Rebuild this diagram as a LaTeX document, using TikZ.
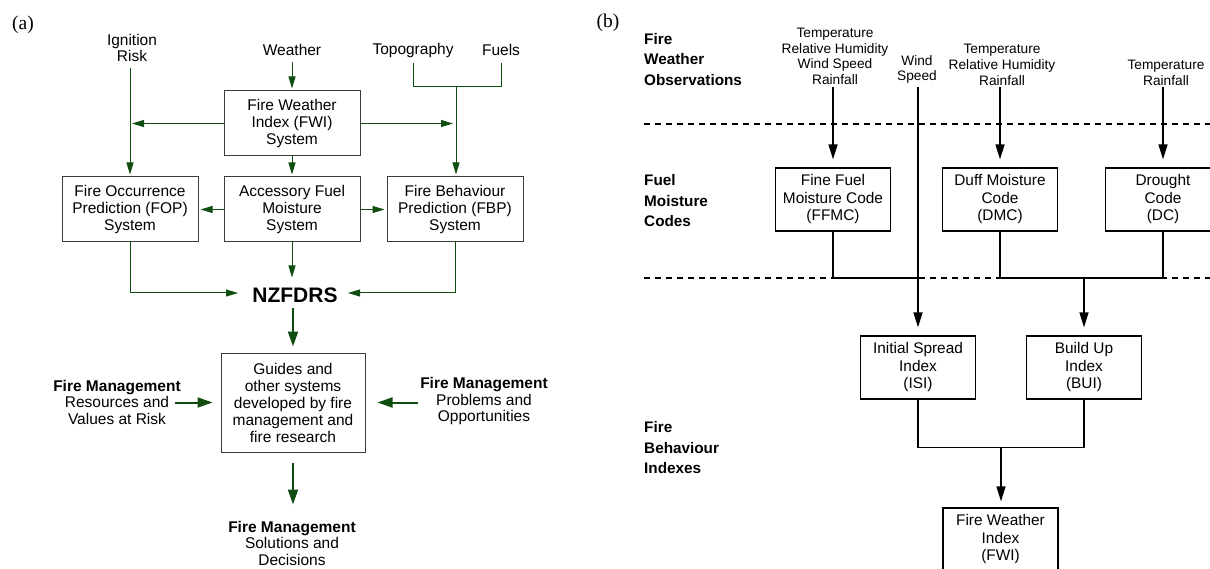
\documentclass[tikz,border=0pt]{standalone}
\usepackage{fontspec}
\setmainfont{Liberation Sans}
\newfontfamily\serifpanel{Liberation Serif}
\usetikzlibrary{arrows.meta}
\definecolor{fgreen}{RGB}{16,77,16}
\definecolor{boxgray}{RGB}{60,60,60}
\tikzset{
  abox/.style={draw=boxgray, line width=1pt, minimum width=136pt, minimum height=65pt, inner sep=0pt, align=center, font=\fontsize{15.5}{17}\selectfont},
  atxt/.style={inner sep=0pt, align=center, font=\fontsize{15.5}{16.5}\selectfont},
  gline/.style={draw=fgreen, line width=1pt},
  garr/.style={gline, -{Triangle[length=12pt,width=7pt]}},
  gthick/.style={draw=fgreen, line width=2pt, -{Triangle[length=15pt,width=10pt]}},
  bbox/.style={draw=black, line width=1.2pt, minimum width=115pt, minimum height=63pt, inner sep=0pt, align=center, font=\fontsize{15.4}{17.5}\selectfont},
  otxt/.style={inner sep=0pt, align=center, font=\fontsize{13.7}{15.7}\selectfont},
  blab/.style={inner sep=0pt, align=left, anchor=west, font=\fontsize{15.3}{20.5}\selectfont\bfseries},
  bline/.style={draw=black, line width=1.3pt},
  barr/.style={bline, -{Triangle[length=15pt,width=9pt]}},
  dline/.style={draw=black, line width=1.2pt, dash pattern=on 6pt off 5pt},
  plabel/.style={inner sep=0pt, font=\serifpanel\fontsize{19.5}{22}\selectfont},
}
\begin{document}
\begin{tikzpicture}[x=1pt,y=-1pt]
\clip (0,0) rectangle (1210,569);
\fill[white] (0,0) rectangle (1210,569);

% ---------------- panel (a) ----------------
\node[plabel] (pa) at (23,25) {(a)};
\node[atxt] (ign) at (132,48) {Ignition\\Risk};
\node[atxt] (wea) at (292,50) {Weather};
\node[atxt] (topo) at (413,50) {Topography};
\node[atxt] (fue) at (501,50) {Fuels};

\node[abox] (fwi) at (292,123.5) {Fire Weather\\Index (FWI)\\System};
\node[abox] (fop) at (130,209.5) {Fire Occurrence\\Prediction (FOP)\\System};
\node[abox] (afm) at (292,209.5) {Accessory Fuel\\Moisture\\System};
\node[abox] (fbp) at (455,209.5) {Fire Behaviour\\Prediction (FBP)\\System};
\node[inner sep=0pt, font=\fontsize{21}{24}\selectfont\bfseries] (nz) at (295,295) {NZFDRS};

\coordinate (ir) at (130,68);
\coordinate (wx) at (292,62);
\coordinate (tp) at (413,63);
\coordinate (fu) at (501,63);
\coordinate (tf) at (456,87);
\coordinate (nzl) at (238,293);
\coordinate (nzr) at (348,293);

\draw[garr] (ir) -- ([yshift=2pt]fop.north);
\draw[garr] (wx) -- ([yshift=2pt]fwi.north);
\draw[gline] (tp) -- ++(0,24) -| (fu);
\draw[garr] (tf) -- ([yshift=2pt]tf |- fbp.north);
\draw[garr, shorten >=2pt] (fwi.west) -- (fwi.west -| ir);
\draw[garr, shorten >=3pt] (fwi.east) -- (fwi.east -| tf);
\draw[garr] (fwi.south) -- ([yshift=2pt]afm.north);
\draw[garr, shorten >=2pt] (afm.west) -- (fop.east);
\draw[garr, shorten >=2pt] (afm.east) -- (fbp.west);
\draw[garr] (afm.south) -- ++(0,35);
\draw[garr] (fop.south) |- (nzl);
\draw[garr] (fbp.south) |- (nzr);

\node[abox, minimum width=144pt, minimum height=99pt] (gd) at (293,402.5) {Guides and\\other systems\\developed by fire\\management and\\fire research};
\node[atxt] (lfm) at (117,402) {\textbf{Fire Management}\\Resources and\\Values at Risk};
\node[atxt] (rfm) at (484,401) {\textbf{Fire Management}\\Problems and\\Opportunities};
\node[atxt] (bfm) at (292,543) {\textbf{Fire Management}\\Solutions and\\Decisions};

\draw[gthick] ([yshift=-5.5pt]gd.north |- nz.south) -- ([yshift=6pt]gd.north);
\draw[gthick] ([xshift=-46pt]gd.west) -- ([xshift=-8pt]gd.west);
\draw[gthick] ([xshift=52pt]gd.east) -- ([xshift=12pt]gd.east);
\draw[gthick] ([yshift=-10pt]gd.south) -- ([yshift=-52pt]gd.south);

% ---------------- panel (b) ----------------
\node[plabel] (pb) at (608,23) {(b)};
\node[blab] (l1) at (644,59.5) {Fire\\Weather\\Observations};
\node[blab] (l2) at (644,201) {Fuel\\Moisture\\Codes};
\node[blab] (l3) at (644,448) {Fire\\Behaviour\\Indexes};

\coordinate (d1a) at (644,124);
\coordinate (d1b) at (1210,124);
\coordinate (d2a) at (644,278);
\coordinate (d2b) at (1210,278);
\draw[dline] (d1a) -- (d1b);
\draw[dline] (d2a) -- (d2b);

\node[otxt] (o1) at (835,56.5) {Temperature\\Relative Humidity\\Wind Speed\\Rainfall};
\node[otxt] (o2) at (917,69.5) {Wind\\Speed};
\node[otxt] (o3) at (1002,65) {Temperature\\Relative Humidity\\Rainfall};
\node[otxt] (o4) at (1166,73) {Temperature\\Rainfall};

\node[bbox] (ffmc) at (833,199.5) {Fine Fuel\\Moisture Code\\(FFMC)};
\node[bbox] (dmc) at (1000,199.5) {Duff Moisture\\Code\\(DMC)};
\node[bbox] (dc) at (1163,199.5) {Drought\\Code\\(DC)};
\node[bbox] (isi) at (918,367.5) {Initial Spread\\Index\\(ISI)};
\node[bbox] (bui) at (1084,367.5) {Build Up\\Index\\(BUI)};
\node[bbox] (fwib) at (1000.5,539.5) {Fire Weather\\Index\\(FWI)};

\coordinate (s1) at (833,87);
\coordinate (s2) at (918,87);
\coordinate (s3) at (1000,87);
\coordinate (s4) at (1163,87);
\coordinate (jb) at (1084,278);
\coordinate (jf) at (1001,447);

\draw[barr] (s1) -- ([yshift=8pt]s1 |- ffmc.north);
\draw[barr] (s2) -- ([yshift=8pt]isi.north);
\draw[barr] (s3) -- ([yshift=8pt]dmc.north);
\draw[barr] (s4) -- ([yshift=8pt]dc.north);
\draw[bline] (ffmc.south) -- (ffmc.south |- d2a) -- (s2 |- d2a);
\draw[bline] (dmc.south) -- (dmc.south |- d2a) -| (dc.south);
\draw[barr] (jb) -- ([yshift=8pt]bui.north);
\draw[bline] (isi.south) -- ++(0,48) -| (bui.south);
\draw[barr] (jf) -- ([yshift=6pt]jf |- fwib.north);
\end{tikzpicture}
\end{document}
